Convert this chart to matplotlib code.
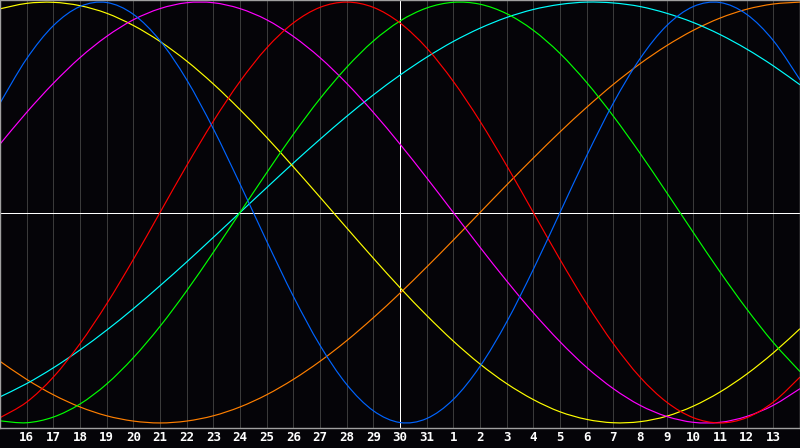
import numpy as np
import matplotlib
matplotlib.use("Agg")
import matplotlib.pyplot as plt
from matplotlib.path import Path
from matplotlib.patches import PathPatch

# day positions (15 = left edge, 30 = today, 45 = right edge)
days = np.arange(15, 46)
tick_days = np.arange(16, 45)
tick_labels = [str(d) for d in range(16, 32)] + [str(d) for d in range(1, 14)]
today = 30

# cycle values, one per day
blue = [0.520, 0.731, 0.888, 0.979, 0.998, 0.942, 0.817, 0.631, 0.398, 0.136, -0.136, -0.398, -0.631, -0.817,
        -0.942, -0.998, -0.979, -0.888, -0.731, -0.520, -0.270, 0.000, 0.270, 0.520, 0.731, 0.888, 0.979, 0.998,
        0.942, 0.817, 0.631]
red = [-0.975, -0.901, -0.782, -0.623, -0.434, -0.223, 0.000, 0.223, 0.434, 0.623, 0.782, 0.901, 0.975, 1.000,
       0.975, 0.901, 0.782, 0.623, 0.434, 0.223, 0.000, -0.223, -0.434, -0.623, -0.782, -0.901, -0.975, -1.000,
       -0.975, -0.901, -0.782]
green = [-0.990, -0.999, -0.972, -0.910, -0.815, -0.690, -0.541, -0.372, -0.189, 0.000, 0.189, 0.372, 0.541, 0.690,
         0.815, 0.910, 0.972, 0.999, 0.990, 0.945, 0.866, 0.756, 0.618, 0.458, 0.282, 0.095, -0.095, -0.282,
         -0.458, -0.618, -0.756]
magenta = [0.325, 0.476, 0.614, 0.736, 0.837, 0.916, 0.969, 0.997, 0.997, 0.969, 0.916, 0.837, 0.736, 0.614,
           0.476, 0.325, 0.165, 0.000, -0.165, -0.325, -0.476, -0.614, -0.736, -0.837, -0.916, -0.969, -0.997,
           -0.997, -0.969, -0.916, -0.837]
yellow = [0.968, 0.994, 0.999, 0.983, 0.947, 0.889, 0.813, 0.720, 0.611, 0.489, 0.357, 0.217, 0.073, -0.073,
          -0.217, -0.357, -0.489, -0.611, -0.720, -0.813, -0.889, -0.947, -0.983, -0.999, -0.994, -0.968, -0.920,
          -0.853, -0.768, -0.667, -0.552]
cyan = [-0.876, -0.813, -0.738, -0.653, -0.559, -0.457, -0.348, -0.235, -0.118, 0.000, 0.118, 0.235, 0.348, 0.457,
        0.559, 0.653, 0.738, 0.813, 0.876, 0.927, 0.965, 0.989, 1.000, 0.996, 0.979, 0.947, 0.903, 0.846, 0.777,
        0.697, 0.607]
orange = [-0.707, -0.793, -0.866, -0.924, -0.966, -0.991, -1.000, -0.991, -0.966, -0.924, -0.866, -0.793, -0.707,
          -0.609, -0.500, -0.383, -0.259, -0.131, 0.000, 0.131, 0.259, 0.383, 0.500, 0.609, 0.707, 0.793, 0.866,
          0.924, 0.966, 0.991, 1.000]

series = [
    (orange, "#ff7f00"),
    (cyan, "#00ffff"),
    (yellow, "#ffff00"),
    (magenta, "#ff00ff"),
    (green, "#00ff00"),
    (red, "#ff0000"),
    (blue, "#0064ff"),
]

PX = 0.72  # one pixel in points at 100 dpi


def smooth_path(xs, ys):
    # bezier path through the points (catmull-rom tangents), no extra data points
    xs = np.asarray(xs, float)
    ys = np.asarray(ys, float)
    n = len(xs)
    verts = [(xs[0], ys[0])]
    codes = [Path.MOVETO]
    for i in range(n - 1):
        i0 = max(i - 1, 0)
        i3 = min(i + 2, n - 1)
        c1 = (xs[i] + (xs[i + 1] - xs[i0]) / 6, ys[i] + (ys[i + 1] - ys[i0]) / 6)
        c2 = (xs[i + 1] - (xs[i3] - xs[i]) / 6, ys[i + 1] - (ys[i3] - ys[i]) / 6)
        verts += [c1, c2, (xs[i + 1], ys[i + 1])]
        codes += [Path.CURVE4] * 3
    return Path(verts, codes)


bg = "#050408"
fig = plt.figure(figsize=(8, 4.48), dpi=100, facecolor=bg)
ax = fig.add_axes([0, 20 / 448, 1, 428 / 448])
ax.set_facecolor(bg)

# grid
for d in tick_days:
    if d == today:
        continue
    ax.axvline(d, color="#3a3a3a", lw=PX, zorder=1, antialiased=False)
ax.axvline(today, color="white", lw=PX, zorder=1, antialiased=False)
ax.axhline(0, color="white", lw=PX, zorder=1, antialiased=False)

for vals, col in series:
    ax.add_patch(PathPatch(smooth_path(days, vals), fill=False, edgecolor=col, lw=0.85, zorder=2))

ax.set_xlim(15, 45)
ax.set_ylim(-1.024, 1.01)
ax.set_yticks([])
ax.set_xticks(tick_days)
ax.set_xticklabels(tick_labels, color="white", fontsize=9, fontweight="bold", family="DejaVu Sans Mono")
ax.tick_params(axis="x", length=0, pad=2)
for s in ax.spines.values():
    s.set_color("#a0a0a0")
    s.set_linewidth(1.0)

fig.savefig("out.png", dpi=100, facecolor=bg)
